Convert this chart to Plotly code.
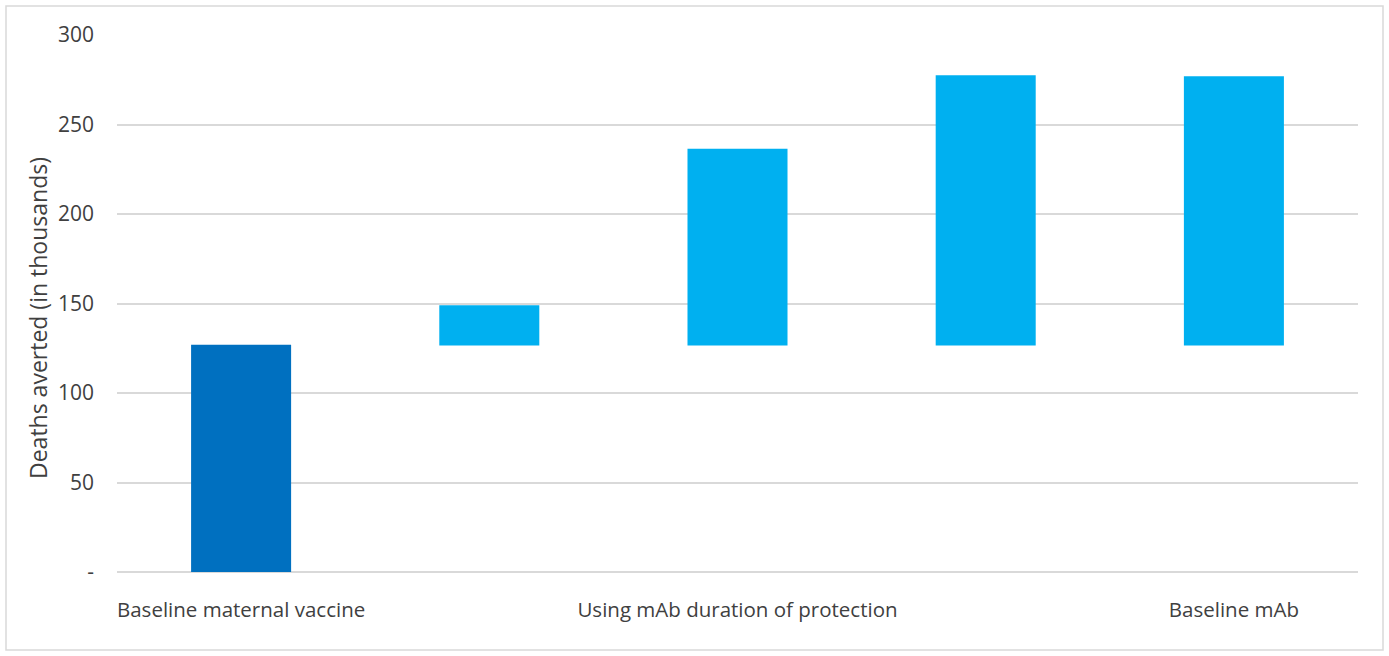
import plotly.graph_objects as go

# Scenario positions and labels (only some positions carry a label)
positions = [0, 1, 2, 3, 4]
tick_labels = ["Baseline maternal vaccine", "", "Using mAb duration of protection", "", "Baseline mAb"]

# Floating bars: bottom and top of each bar (deaths averted, thousands)
bar_base = [0, 126.5, 126.5, 126.5, 126.5]
bar_top = [127, 149, 236.5, 277.5, 277]
bar_colors = ["#0070C0", "#00B0F0", "#00B0F0", "#00B0F0", "#00B0F0"]

y_ticks = [0, 50, 100, 150, 200, 250, 300]
y_tick_text = ["-", "50", "100", "150", "200", "250", "300"]
y_title = "Deaths averted (in thousands)"

heights = [t - b for t, b in zip(bar_top, bar_base)]

fig = go.Figure(
    go.Bar(
        x=positions,
        y=heights,
        base=bar_base,
        marker=dict(color=bar_colors, line=dict(width=0)),
        width=0.403,
        hoverinfo="skip",
    )
)

plot_w, plot_h = 1241, 537

fig.update_layout(
    width=1389,
    height=656,
    margin=dict(l=117, r=31, t=35, b=84),
    paper_bgcolor="white",
    plot_bgcolor="white",
    showlegend=False,
    font=dict(family="Open Sans", color="#404040"),
    xaxis=dict(
        range=[-0.5, 4.5],
        tickvals=positions,
        ticktext=tick_labels,
        showgrid=False,
        zeroline=False,
        showline=False,
        ticks="",
        ticklabelstandoff=23,
        tickfont=dict(size=20.5, color="#404040"),
    ),
    yaxis=dict(
        range=[0, 300],
        tickvals=y_ticks,
        ticktext=y_tick_text,
        showgrid=True,
        gridcolor="#D9D9D9",
        gridwidth=1.5,
        zeroline=True,
        zerolinecolor="#D9D9D9",
        zerolinewidth=2,
        showline=False,
        ticks="",
        ticklabelstandoff=22,
        tickfont=dict(size=21, color="#404040"),
    ),
    annotations=[
        dict(
            text=y_title,
            xref="paper",
            yref="paper",
            x=(38 - 117) / plot_w,
            y=(572 - 318) / plot_h,
            xanchor="center",
            yanchor="middle",
            textangle=-90,
            showarrow=False,
            font=dict(size=23, color="#404040"),
        )
    ],
    shapes=[
        dict(
            type="rect",
            xref="paper",
            yref="paper",
            x0=-111 / plot_w,
            x1=(1383 - 117) / plot_w,
            y0=-(650 - 572) / plot_h,
            y1=(572 - 6) / plot_h,
            line=dict(color="#D9D9D9", width=1.5),
            fillcolor="rgba(0,0,0,0)",
            layer="below",
        )
    ],
)

fig.write_html("out.html")
